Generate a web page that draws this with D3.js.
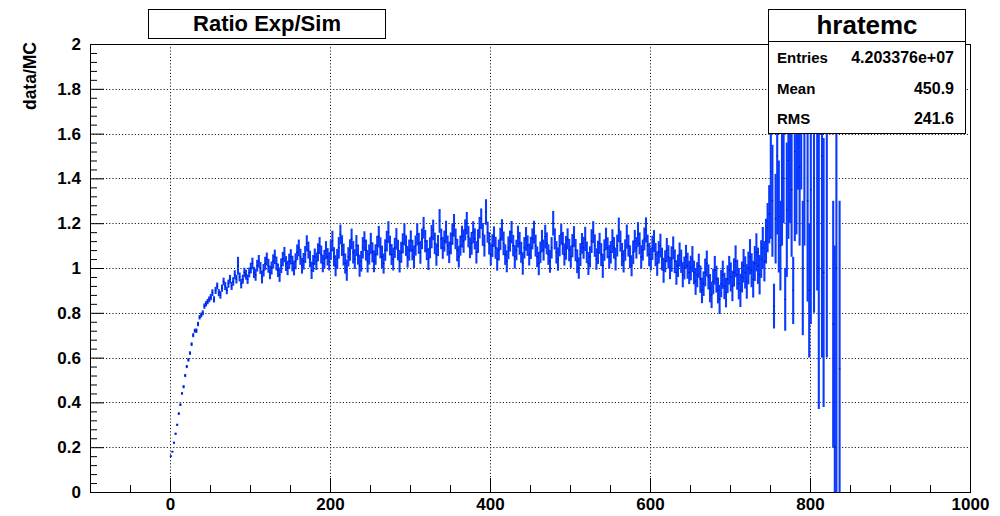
<!DOCTYPE html>
<html>
<head>
<meta charset="utf-8">
<script src="https://cdn.jsdelivr.net/npm/d3@7"></script>
<style>
  html, body { margin: 0; padding: 0; background: #fff; }
  svg { display: block; }
  text { font-family: "Liberation Sans", Arial, Helvetica, sans-serif; font-weight: bold; fill: #000; }
</style>
</head>
<body>
<svg id="chart" width="1000" height="516"></svg>
<script>
// Histogram binning: 2-unit bins starting at 0
const binStart = 0;
const binWidth = 2;

// data/MC ratio per bin (null = empty bin)
const ratio = [
  0.16,0.18,0.22,0.26,0.30,0.35,0.39,0.44,0.47,0.52,0.56,0.59,0.62,0.66,0.70,0.72,0.72,0.75,0.78,0.79,0.80,0.83,0.84,0.85,0.86,
  0.87,0.89,0.86,0.90,0.92,0.89,0.88,0.91,0.94,0.92,0.90,0.93,0.95,0.92,0.94,0.97,0.95,1.01,0.96,0.93,0.95,0.98,0.97,0.95,0.98,
  1.00,1.02,0.98,0.97,1.01,1.03,1.00,0.96,0.99,1.02,1.04,1.01,0.98,1.00,1.03,1.05,1.02,0.99,0.97,1.01,1.04,1.06,1.02,1.00,1.03,
  1.05,1.02,1.00,1.03,1.07,1.09,1.05,1.01,1.03,1.06,1.11,1.08,1.04,0.99,1.02,1.05,1.03,1.07,1.10,1.06,1.02,1.04,1.08,1.05,1.03,
  1.08,1.12,1.05,1.01,1.04,1.09,1.15,1.10,1.06,1.02,0.99,1.05,1.08,1.13,1.07,1.04,1.10,1.06,1.01,1.03,1.09,1.12,1.08,1.03,1.06,
  1.11,1.07,1.03,1.06,1.10,1.14,1.09,1.05,1.02,1.08,1.12,1.16,1.10,1.06,1.04,1.09,1.13,1.08,1.03,1.07,1.11,1.15,1.10,1.05,1.08,
  1.12,1.08,1.05,1.10,1.15,1.11,1.07,1.13,1.18,1.12,1.08,1.04,1.09,1.14,1.17,1.11,1.06,1.10,1.21,1.13,1.09,1.12,1.16,1.10,1.07,
  1.11,1.15,1.19,1.13,1.08,1.05,1.10,1.14,1.12,1.17,1.20,1.14,1.09,1.11,1.16,1.13,1.07,1.12,1.18,1.22,1.15,1.10,1.25,1.16,1.11,
  1.06,1.10,1.14,1.09,1.04,1.08,1.13,1.17,1.11,1.06,1.03,1.09,1.12,1.16,1.10,1.05,1.08,1.14,1.11,1.07,1.02,1.09,1.13,1.10,1.06,
  1.09,1.13,1.16,1.10,1.05,1.02,1.07,1.12,1.08,1.14,1.11,1.06,1.03,1.09,1.20,1.13,1.07,1.04,1.10,1.15,1.11,1.06,1.09,1.13,1.08,
  1.05,1.10,1.14,1.08,1.03,1.00,1.06,1.11,1.09,1.13,1.07,1.02,1.05,1.12,1.16,1.10,1.04,1.07,1.11,1.06,1.01,1.08,1.13,1.09,1.05,
  1.07,1.12,1.09,1.04,1.10,1.17,1.12,1.06,1.03,1.08,1.14,1.10,1.05,1.01,1.07,1.12,1.09,1.15,1.11,1.05,1.08,1.13,1.17,1.10,1.06,
  1.04,1.09,1.12,1.06,1.02,1.07,1.10,1.04,0.99,1.03,1.08,1.05,1.00,1.04,1.09,1.03,0.98,1.01,1.06,1.03,0.97,1.00,1.05,1.01,0.98,
  1.00,1.04,0.98,0.94,0.97,1.01,0.95,0.90,0.93,0.98,1.02,0.96,0.91,0.88,0.94,0.99,0.95,0.90,0.86,0.93,0.97,0.92,0.89,0.95,0.99,
  0.96,0.92,0.98,1.03,0.97,0.93,0.90,0.96,1.01,0.98,0.94,1.00,1.05,0.99,0.95,1.02,1.07,1.01,0.97,1.04,1.09,1.03,1.12,1.18,1.24,
  1.43,1.30,0.83,1.22,1.50,1.23,1.10,1.40,1.60,0.86,1.26,1.48,1.70,1.35,0.90,1.52,1.65,1.80,1.45,1.95,1.00,1.60,null,1.30,0.90,
  1.35,null,1.40,null,1.70,1.00,null,1.50,0.98,null,1.60,null,null,null,0.75,0.20,1.00,null,0.55,null,null,null,null
];

// statistical error of each bin
const ratioErr = [
  0.004,0.004,0.005,0.005,0.005,0.006,0.006,0.006,0.007,0.007,0.007,0.008,0.008,0.008,0.009,0.009,0.010,0.010,0.010,0.011,0.011,0.012,0.012,0.012,0.013,
  0.014,0.015,0.014,0.016,0.015,0.016,0.017,0.016,0.017,0.018,0.017,0.018,0.019,0.018,0.019,0.020,0.019,0.040,0.020,0.021,0.020,0.021,0.022,0.021,0.022,
  0.024,0.026,0.025,0.027,0.026,0.028,0.027,0.029,0.028,0.030,0.029,0.031,0.030,0.029,0.031,0.032,0.031,0.030,0.032,0.033,0.032,0.034,0.033,0.032,0.034,
  0.034,0.035,0.033,0.036,0.035,0.037,0.036,0.035,0.037,0.038,0.036,0.038,0.037,0.039,0.038,0.037,0.039,0.040,0.038,0.040,0.039,0.041,0.040,0.039,0.041,
  0.044,0.046,0.043,0.047,0.045,0.048,0.044,0.046,0.049,0.045,0.047,0.043,0.048,0.046,0.050,0.044,0.047,0.045,0.049,0.046,0.048,0.044,0.047,0.050,0.045,
  0.047,0.045,0.049,0.046,0.044,0.048,0.047,0.050,0.045,0.048,0.046,0.049,0.044,0.047,0.051,0.045,0.048,0.046,0.050,0.047,0.045,0.049,0.046,0.048,0.047,
  0.048,0.046,0.050,0.045,0.049,0.047,0.051,0.046,0.048,0.050,0.045,0.049,0.047,0.052,0.046,0.048,0.050,0.047,0.053,0.046,0.049,0.047,0.051,0.045,0.048,
  0.049,0.047,0.051,0.046,0.050,0.048,0.045,0.049,0.052,0.047,0.050,0.048,0.046,0.051,0.049,0.047,0.050,0.053,0.048,0.046,0.051,0.049,0.057,0.047,0.050,
  0.048,0.051,0.046,0.049,0.052,0.047,0.050,0.048,0.053,0.046,0.049,0.051,0.047,0.050,0.048,0.052,0.046,0.049,0.051,0.047,0.050,0.048,0.053,0.046,0.049,
  0.050,0.047,0.051,0.049,0.046,0.052,0.048,0.050,0.047,0.053,0.049,0.046,0.051,0.048,0.055,0.047,0.050,0.052,0.048,0.046,0.051,0.049,0.053,0.047,0.050,
  0.049,0.052,0.047,0.050,0.053,0.048,0.051,0.046,0.049,0.054,0.048,0.051,0.047,0.053,0.049,0.050,0.048,0.052,0.047,0.051,0.054,0.048,0.050,0.047,0.052,
  0.050,0.053,0.048,0.051,0.049,0.055,0.047,0.052,0.050,0.048,0.054,0.049,0.051,0.047,0.053,0.050,0.048,0.055,0.049,0.052,0.047,0.051,0.056,0.049,0.052,
  0.051,0.054,0.049,0.052,0.055,0.050,0.053,0.051,0.056,0.049,0.054,0.052,0.050,0.057,0.051,0.053,0.055,0.050,0.054,0.052,0.056,0.051,0.053,0.058,0.052,
  0.055,0.058,0.053,0.060,0.056,0.054,0.061,0.057,0.055,0.062,0.058,0.056,0.063,0.059,0.057,0.064,0.060,0.058,0.065,0.061,0.063,0.059,0.066,0.062,0.064,
  0.065,0.068,0.063,0.071,0.067,0.070,0.074,0.069,0.075,0.072,0.077,0.073,0.079,0.076,0.082,0.078,0.085,0.081,0.088,0.084,0.093,0.090,0.100,0.110,0.130,
  0.30,0.25,0.10,0.20,0.35,0.25,0.20,0.30,0.40,0.14,0.30,0.35,0.50,0.30,0.15,0.40,0.50,0.45,0.35,0.60,0.30,0.50,null,0.45,0.30,
  0.60,null,0.60,null,0.80,0.63,null,0.90,0.60,null,1.00,null,null,null,0.55,0.90,1.20,null,0.75,null,null,null,null
];

// axis definitions
const xDomain = [-100, 1000];
const yDomain = [0, 2];
const xMajorTicks = [0, 200, 400, 600, 800, 1000];
const xMinorTicks = [-100, -50, 50, 100, 150, 250, 300, 350, 450, 500, 550, 650, 700, 750, 850, 900, 950];
const yMajorTicks = [0, 0.2, 0.4, 0.6, 0.8, 1, 1.2, 1.4, 1.6, 1.8, 2];
const yTickLabels = ["0", "0.2", "0.4", "0.6", "0.8", "1", "1.2", "1.4", "1.6", "1.8", "2"];
const xGridTicks = [0, 200, 400, 600, 800];
const yGridTicks = [0.2, 0.4, 0.6, 0.8, 1, 1.2, 1.4, 1.6, 1.8];

// texts
const plotTitle = "Ratio Exp/Sim";
const yTitle = "data/MC";
const statsName = "hratemc";
const statsRows = [["Entries", "4.203376e+07"], ["Mean", "450.9"], ["RMS", "241.6"]];

const svg = d3.select("#chart");
const frame = { left: 90, right: 970, top: 44, bottom: 492 };

const x = d3.scaleLinear().domain(xDomain).range([frame.left, frame.right]);
const y = d3.scaleLinear().domain(yDomain).range([frame.bottom, frame.top]);

svg.append("rect").attr("width", 1000).attr("height", 516).attr("fill", "#fff");

svg.append("defs").append("clipPath").attr("id", "plotclip")
  .append("rect")
  .attr("x", frame.left).attr("y", frame.top)
  .attr("width", frame.right - frame.left).attr("height", frame.bottom - frame.top);

// dotted grid
const grid = svg.append("g").attr("stroke", "#222").attr("stroke-width", 1)
  .attr("stroke-dasharray", "1.2,2");
grid.selectAll("line.gx").data(xGridTicks).join("line")
  .attr("x1", d => Math.round(x(d)) + 0.5).attr("x2", d => Math.round(x(d)) + 0.5)
  .attr("y1", frame.top).attr("y2", frame.bottom);
grid.selectAll("line.gy").data(yGridTicks).join("line")
  .attr("y1", d => Math.round(y(d)) + 0.5).attr("y2", d => Math.round(y(d)) + 0.5)
  .attr("x1", frame.left).attr("x2", frame.right);

// histogram with error bars
const bins = ratio.map((v, i) => ({
  center: binStart + binWidth * (i + 0.5),
  v: v,
  e: ratioErr[i]
})).filter(b => b.v !== null);

const hist = svg.append("g").attr("clip-path", "url(#plotclip)");
hist.selectAll("line.err").data(bins).join("line")
  .attr("class", "err")
  .attr("x1", d => x(d.center)).attr("x2", d => x(d.center))
  .attr("y1", d => y(d.v - d.e)).attr("y2", d => y(d.v + d.e))
  .attr("stroke", "#0b3aff").attr("stroke-width", 2.1);
hist.selectAll("line.bw").data(bins).join("line")
  .attr("class", "bw")
  .attr("x1", d => x(d.center - binWidth / 2)).attr("x2", d => x(d.center + binWidth / 2))
  .attr("y1", d => y(d.v)).attr("y2", d => y(d.v))
  .attr("stroke", "#0b3aff").attr("stroke-width", 1);
hist.selectAll("rect.mk").data(bins).join("rect")
  .attr("class", "mk")
  .attr("x", d => x(d.center) - 0.6).attr("y", d => y(d.v) - 0.6)
  .attr("width", 1.2).attr("height", 1.2)
  .attr("fill", "#000").attr("opacity", 0.6);

// axes with inward ticks
const xAxis = svg.append("g").attr("transform", `translate(0,${frame.bottom})`)
  .call(d3.axisBottom(x).tickValues(xMajorTicks).tickSizeInner(-14).tickSizeOuter(0)
    .tickPadding(6).tickFormat(d3.format("d")));
const xAxisMinor = svg.append("g").attr("transform", `translate(0,${frame.bottom})`)
  .call(d3.axisBottom(x).tickValues(xMinorTicks).tickSizeInner(-7).tickSizeOuter(0).tickFormat(""));

const yMinorTicks = d3.range(0, 2.0001, 0.04).map(v => +v.toFixed(2)).filter(v => !yMajorTicks.includes(v));
const yAxis = svg.append("g").attr("transform", `translate(${frame.left},0)`)
  .call(d3.axisLeft(y).tickValues(yMajorTicks).tickSizeInner(-14).tickSizeOuter(0)
    .tickPadding(9).tickFormat((d, i) => yTickLabels[i]));
const yAxisMinor = svg.append("g").attr("transform", `translate(${frame.left},0)`)
  .call(d3.axisLeft(y).tickValues(yMinorTicks).tickSizeInner(-7).tickSizeOuter(0).tickFormat(""));

[xAxis, xAxisMinor, yAxis, yAxisMinor].forEach(g => {
  g.select(".domain").remove();
  g.selectAll(".tick line").attr("stroke", "#000").attr("stroke-width", 1);
  g.selectAll("text").attr("font-size", 17)
    .attr("font-family", "'Liberation Sans', Arial, sans-serif").attr("font-weight", "bold");
});

// frame
svg.append("rect")
  .attr("x", frame.left + 0.5).attr("y", frame.top + 0.5)
  .attr("width", frame.right - frame.left).attr("height", frame.bottom - frame.top)
  .attr("fill", "none").attr("stroke", "#000").attr("stroke-width", 1);

// y axis title
svg.append("text")
  .attr("transform", "translate(36,42) rotate(-90)")
  .attr("text-anchor", "end")
  .attr("font-size", 17.5)
  .text(yTitle);

// title box
svg.append("rect").attr("x", 148.5).attr("y", 9.5).attr("width", 237).attr("height", 29)
  .attr("fill", "#fff").attr("stroke", "#000");
svg.append("text").attr("x", 267).attr("y", 31).attr("text-anchor", "middle")
  .attr("font-size", 22).text(plotTitle);

// statistics box
const sb = { x: 768.5, y: 9.5, w: 197, h: 124, head: 32 };
svg.append("rect").attr("x", sb.x).attr("y", sb.y).attr("width", sb.w).attr("height", sb.h)
  .attr("fill", "#fff").attr("stroke", "#000");
svg.append("line").attr("x1", sb.x).attr("x2", sb.x + sb.w)
  .attr("y1", sb.y + sb.head).attr("y2", sb.y + sb.head).attr("stroke", "#000");
svg.append("text").attr("x", sb.x + sb.w / 2).attr("y", 34).attr("text-anchor", "middle")
  .attr("font-size", 26).text(statsName);
statsRows.forEach((r, i) => {
  const by = 63 + i * 30.5;
  svg.append("text").attr("x", 777).attr("y", by).attr("font-size", 15).text(r[0]);
  svg.append("text").attr("x", 954).attr("y", by).attr("text-anchor", "end").attr("font-size", 16).text(r[1]);
});
</script>
</body>
</html>
